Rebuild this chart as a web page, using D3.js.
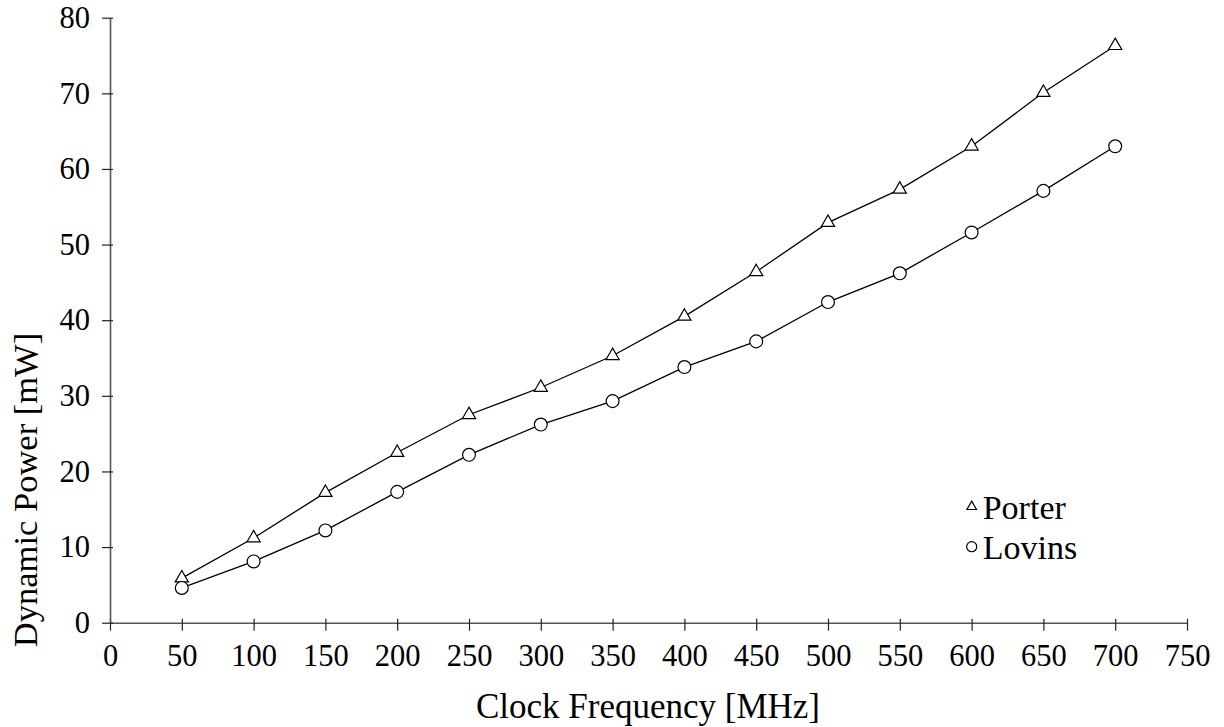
<!DOCTYPE html>
<html>
<head>
<meta charset="utf-8">
<script src="https://cdn.jsdelivr.net/npm/d3@7"></script>
<style>
    body { margin: 0; background: #fff; }
    text { font-family: "Liberation Serif", "Times New Roman", serif; fill: #000; }
</style>
</head>
<body>
<div id="chart"></div>
<script>
// clock frequency [MHz]
const freqs = [50, 100, 150, 200, 250, 300, 350, 400, 450, 500, 550, 600, 650, 700];
// dynamic power [mW]
const porter = [5.9, 11.2, 17.2, 22.5, 27.5, 31.1, 35.3, 40.5, 46.4, 52.9, 57.3, 63.0, 70.1, 76.3];
const lovins = [4.6, 8.1, 12.2, 17.3, 22.2, 26.2, 29.3, 33.8, 37.2, 42.4, 46.2, 51.6, 57.1, 63.0];
const xTicks = d3.range(0, 751, 50);
const yTicks = d3.range(0, 81, 10);

const W = 1224, H = 727;
const margin = {top: 17.7, right: 37, bottom: 104.3, left: 110};
const width = W - margin.left - margin.right;
const height = H - margin.top - margin.bottom;

const svg = d3.select("#chart").append("svg")
    .attr("width", W)
    .attr("height", H);

const g = svg.append("g")
    .attr("transform", `translate(${margin.left},${margin.top})`);

const x = d3.scaleLinear().domain([0, 750]).range([0, width]);
const y = d3.scaleLinear().domain([0, 80]).range([height, 0]);

// axes
const xAxis = g.append("g")
    .attr("transform", `translate(0,${height})`)
    .call(d3.axisBottom(x).tickValues(xTicks).tickSize(8).tickSizeOuter(0).tickPadding(14));
xAxis.selectAll(".tick line").attr("y1", -4);

const yAxis = g.append("g")
    .call(d3.axisLeft(y).tickValues(yTicks).tickSize(8).tickSizeOuter(0).tickPadding(12));
yAxis.selectAll(".tick line").attr("x1", 3);

g.selectAll(".domain").attr("stroke", "#555").attr("stroke-width", 1.6);
g.selectAll(".tick line").attr("stroke", "#222").attr("stroke-width", 1.2);
g.selectAll(".tick text")
    .style("font-family", "'Liberation Serif', serif")
    .style("font-size", "30.5px")
    .attr("fill", "#000");

// axis titles
svg.append("text")
    .attr("x", 648)
    .attr("y", 718)
    .attr("text-anchor", "middle")
    .style("font-size", "35px")
    .text("Clock Frequency [MHz]");

svg.append("text")
    .attr("transform", "translate(37,490) rotate(-90)")
    .attr("text-anchor", "middle")
    .style("font-size", "34.5px")
    .text("Dynamic Power [mW]");

const series = [
    {name: "Porter", values: porter, shape: d3.symbolTriangle},
    {name: "Lovins", values: lovins, shape: d3.symbolCircle}
];

const line = d3.line()
    .x(d => x(d[0]))
    .y(d => y(d[1]));

series.forEach(s => {
    const pts = freqs.map((f, i) => [f, s.values[i]]);

    g.append("path")
        .datum(pts)
        .attr("fill", "none")
        .attr("stroke", "#000")
        .attr("stroke-width", 1.3)
        .attr("d", line);

    g.selectAll(null)
        .data(pts)
        .enter()
        .append("path")
        .attr("d", d3.symbol().type(s.shape).size(s.shape === d3.symbolCircle ? 130 : 75))
        .attr("transform", d => `translate(${x(d[0])},${y(d[1])})`)
        .attr("fill", "#fff")
        .attr("stroke", "#000")
        .attr("stroke-width", 1.2);
});

// legend
const legend = svg.append("g")
    .attr("transform", "translate(971.7,506.7)");

series.forEach((s, i) => {
    const row = legend.append("g").attr("transform", `translate(0,${i * 40})`);
    row.append("path")
        .attr("d", d3.symbol().type(s.shape).size(s.shape === d3.symbolCircle ? 80 : 40))
        .attr("fill", "#fff")
        .attr("stroke", "#000")
        .attr("stroke-width", 1.2);
    row.append("text")
        .attr("x", 11)
        .attr("y", 12.5)
        .style("font-size", "34px")
        .text(s.name);
});
</script>
</body>
</html>
